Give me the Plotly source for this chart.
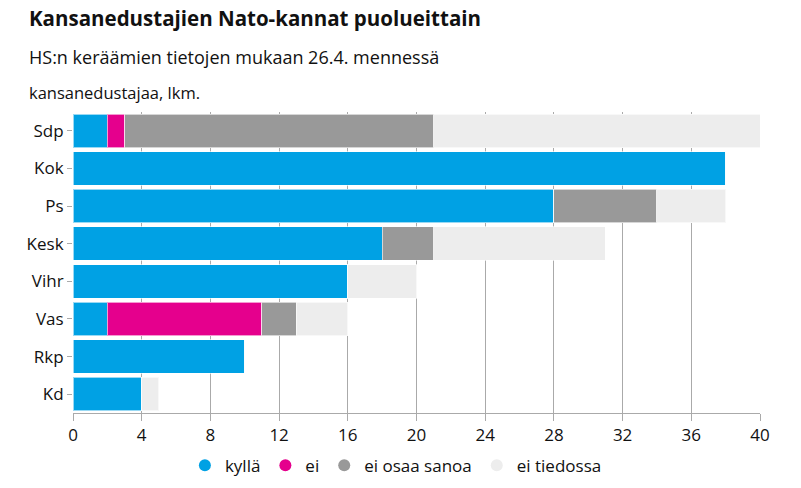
import plotly.graph_objects as go

parties = ["Sdp", "Kok", "Ps", "Kesk", "Vihr", "Vas", "Rkp", "Kd"]
kylla = [2, 38, 28, 18, 16, 2, 10, 4]
ei = [1, 0, 0, 0, 0, 9, 0, 0]
eos = [18, 0, 6, 3, 0, 2, 0, 0]
ei_tiedossa = [19, 0, 4, 10, 4, 3, 0, 1]

series = [
    ("kyllä", kylla, "#00a1e4"),
    ("ei", ei, "#e5008d"),
    ("ei osaa sanoa", eos, "#999999"),
    ("ei tiedossa", ei_tiedossa, "#ededed"),
]
x_ticks = list(range(0, 41, 4))

FONT = "Open Sans"
fig = go.Figure()
for name, vals, col in series:
    fig.add_trace(go.Bar(
        y=parties, x=vals, orientation="h", name=name,
        marker=dict(color=col, line=dict(color="rgba(255,255,255,0.6)", width=1)),
        width=0.888, showlegend=False,
    ))
for name, vals, col in series:
    fig.add_trace(go.Scatter(
        x=[None], y=[None], mode="markers", name=name,
        marker=dict(symbol="circle", size=13, color=col),
    ))

fig.update_layout(
    barmode="stack",
    width=801, height=488,
    margin=dict(l=73, r=41, t=112, b=75, autoexpand=False),
    paper_bgcolor="white", plot_bgcolor="white",
    font=dict(family=FONT, size=17, color="#111"),
    legend=dict(orientation="h", x=0.47, xanchor="center", y=-0.115, yanchor="top",
                font=dict(size=17), itemsizing="constant", traceorder="normal",
                itemwidth=30),
    xaxis=dict(range=[0, 40], tickvals=x_ticks, showgrid=True, gridcolor="#aaaaaa",
               gridwidth=1, ticks="outside", ticklen=7, tickcolor="#aaaaaa",
               showline=True, linecolor="#aaaaaa", linewidth=1, zeroline=False,
               tickfont=dict(size=17)),
    yaxis=dict(categoryorder="array", categoryarray=parties[::-1], autorange=True,
               ticks="outside", ticklen=5, tickcolor="#aaaaaa", showline=False,
               tickfont=dict(size=17)),
    annotations=[
        dict(text="<b>Kansanedustajien Nato-kannat puolueittain</b>", xref="paper", yref="paper",
             x=-0.067, xanchor="left", y=1.312, yanchor="middle", showarrow=False,
             font=dict(size=20.5, color="#111", family=FONT)),
        dict(text="HS:n keräämien tietojen mukaan 26.4. mennessä", xref="paper", yref="paper",
             x=-0.067, xanchor="left", y=1.183, yanchor="middle", showarrow=False,
             font=dict(size=18, color="#111", family=FONT)),
        dict(text="kansanedustajaa, lkm.", xref="paper", yref="paper",
             x=-0.067, xanchor="left", y=1.066, yanchor="middle", showarrow=False,
             font=dict(size=16.5, color="#111", family=FONT)),
    ],
)
fig.write_html("out.html")
